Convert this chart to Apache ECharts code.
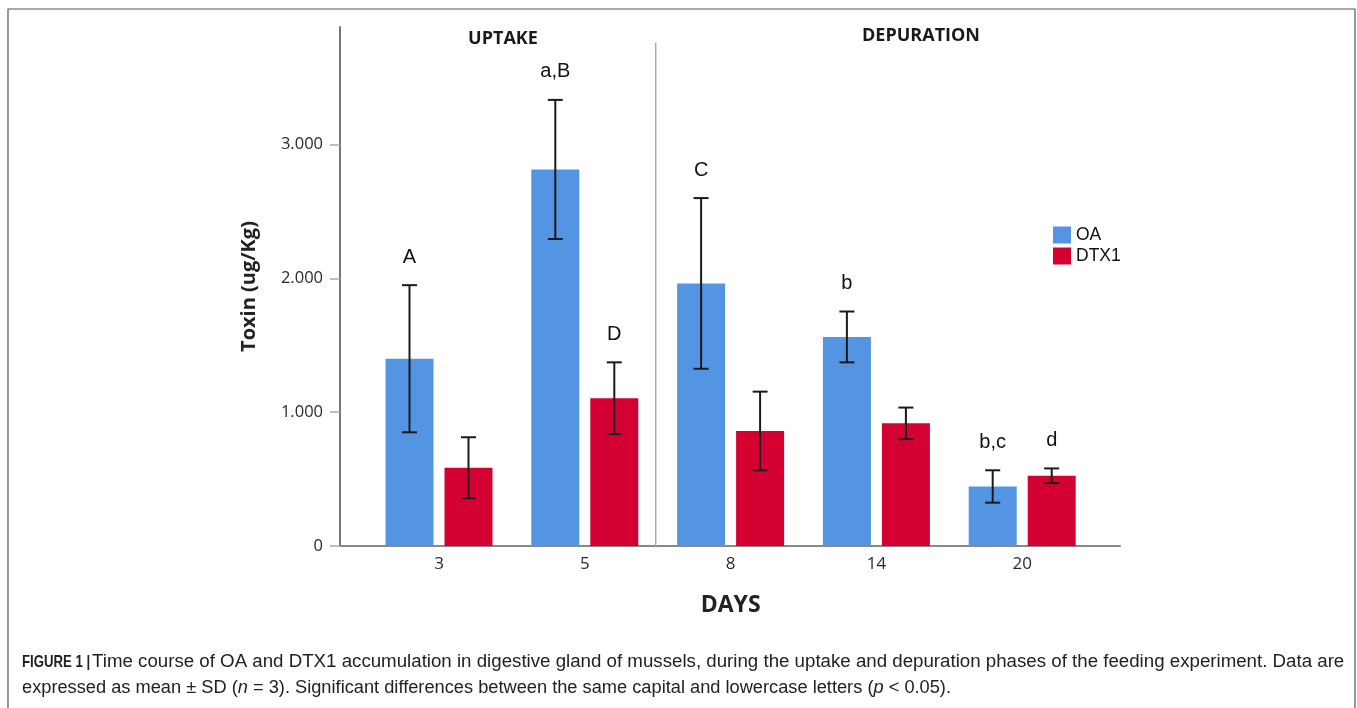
<!DOCTYPE html>
<html>
<head>
<meta charset="utf-8">
<script src="https://cdn.jsdelivr.net/npm/echarts@6/dist/echarts.min.js"></script>
<style>
  html, body { margin: 0; padding: 0; background: #fff; }
  #chart { width: 1357px; height: 708px; }
</style>
</head>
<body>
<div id="chart"></div>
<script>
// ---- data ----
const days = ['3', '5', '8', '14', '20'];
const oaMean  = [1400, 2815, 1963, 1563, 445];
const oaSD    = [550, 520, 638, 190, 121];
const dtxMean = [585, 1105, 860, 917, 525];
const dtxSD   = [228, 268, 294, 118, 55];
const oaLetters  = ['A', 'a,B', 'C', 'b', 'b,c'];
const dtxLetters = ['', 'D', '', '', 'd'];
const yTicks = [0, 1000, 2000, 3000];
const phases = ['UPTAKE', 'DEPURATION'];
const phaseBoundary = [1, 2]; // between day 5 and day 8

// ---- style ----
const BAR_W = 48, BAR_GAP = 11;
const BLUE = '#5495e3', RED = '#d50032';
const AXIS_FONT = '"Open Sans", sans-serif';
const YMAX = 3880;
const CAP_FONT = '17.5px "Liberation Sans", Arial, sans-serif';

function fmtThousands(v) {
  return String(v).replace(/\B(?=(\d{3})+(?!\d))/g, '.');
}

function errSeries(name, means, sds, letters, sign) {
  return {
    name: name + ' SD', type: 'custom', xAxisIndex: 1, yAxisIndex: 1, z: 5, silent: true,
    data: means.map((m, i) => [i, m, sds[i]]),
    renderItem: function (params, api) {
      const i = api.value(0), m = api.value(1), s = api.value(2);
      const off = sign * (BAR_W + BAR_GAP) / 2;
      const top = api.coord([i, m + s]);
      const bot = api.coord([i, m - s]);
      const x = top[0] + off;
      const ls = { stroke: '#1a1a1a', lineWidth: 2 };
      const children = [
        { type: 'line', shape: { x1: x, y1: top[1], x2: x, y2: bot[1] }, style: ls },
        { type: 'line', shape: { x1: x - 7.5, y1: top[1], x2: x + 7.5, y2: top[1] }, style: ls },
        { type: 'line', shape: { x1: x - 7.5, y1: bot[1], x2: x + 7.5, y2: bot[1] }, style: ls }
      ];
      const lab = letters[params.dataIndex];
      if (lab) {
        children.push({
          type: 'text', x: x, y: top[1] - 28,
          style: { text: lab, fill: '#111', font: '20px "Liberation Sans", Arial, sans-serif',
                   align: 'center', verticalAlign: 'middle' }
        });
      }
      return { type: 'group', children: children };
    }
  };
}

const chart = echarts.init(document.getElementById('chart'), null, { renderer: 'canvas' });

const option = {
  backgroundColor: '#fff',
  animation: false,
  grid: [
    { left: 340, top: 27, width: 780, height: 519 },
    { left: 366.1, top: 27, width: 729, height: 519 }
  ],
  legend: {
    data: ['OA', 'DTX1'],
    orient: 'vertical', left: 1053, top: 226, padding: 0,
    icon: 'rect', itemWidth: 18, itemHeight: 17, itemGap: 3,
    textStyle: { fontFamily: '"Liberation Sans", Arial, sans-serif', fontSize: 17.5, color: '#111', lineHeight: 17 },
    selectedMode: false
  },
  xAxis: [
    { gridIndex: 0, type: 'value', min: 0, max: 1,
      axisLine: { show: true, lineStyle: { color: '#888', width: 2 } },
      axisTick: { show: false }, axisLabel: { show: false }, splitLine: { show: false } },
    { gridIndex: 1, type: 'category', data: days, boundaryGap: true,
      axisLine: { show: false }, axisTick: { show: false }, splitLine: { show: false },
      axisLabel: { fontFamily: AXIS_FONT, fontSize: 17, color: '#2a2a2a', margin: 10 },
      name: 'DAYS', nameLocation: 'middle', nameGap: 48,
      nameTextStyle: { fontFamily: AXIS_FONT, fontSize: 23, fontWeight: 'bold', color: '#222' } }
  ],
  yAxis: [
    { gridIndex: 0, type: 'value', min: 0, max: YMAX, interval: 1000,
      axisLine: { show: true, lineStyle: { color: '#777', width: 2 } },
      axisTick: { show: true, length: 10, lineStyle: { color: '#aaa', width: 1.5 }, customValues: yTicks },
      axisLabel: { fontFamily: AXIS_FONT, fontSize: 16.5, color: '#2a2a2a', margin: 17,
                   customValues: yTicks, formatter: fmtThousands },
      splitLine: { show: false },
      name: 'Toxin (ug/Kg)', nameLocation: 'middle', nameGap: 81, nameRotate: 90,
      nameTextStyle: { fontFamily: AXIS_FONT, fontSize: 20, fontWeight: 'bold', color: '#222' } },
    { gridIndex: 1, type: 'value', min: 0, max: YMAX, interval: 1000, show: false }
  ],
  series: [
    { name: 'OA', type: 'bar', xAxisIndex: 1, yAxisIndex: 1, data: oaMean,
      barWidth: BAR_W, barGap: (BAR_GAP / BAR_W * 100) + '%', itemStyle: { color: BLUE } },
    { name: 'DTX1', type: 'bar', xAxisIndex: 1, yAxisIndex: 1, data: dtxMean,
      barWidth: BAR_W, itemStyle: { color: RED } },
    errSeries('OA', oaMean, oaSD, oaLetters, -1),
    errSeries('DTX1', dtxMean, dtxSD, dtxLetters, 1),
    { name: 'phase divider', type: 'custom', xAxisIndex: 1, yAxisIndex: 1, silent: true, z: 1,
      data: [phaseBoundary],
      renderItem: function (params, api) {
        const a = api.coord([api.value(0), 0]);
        const b = api.coord([api.value(1), 3765]);
        const x = (a[0] + b[0]) / 2 - 2;
        return { type: 'line', shape: { x1: x, y1: b[1], x2: x, y2: a[1] },
                 style: { stroke: '#aaa', lineWidth: 1.5 } };
      } }
  ],
  graphic: [
    { type: 'rect', shape: { x: 8, y: 9, width: 1347, height: 720 },
      style: { fill: 'none', stroke: '#555', lineWidth: 1.2 }, silent: true },
    { type: 'text', x: 503, y: 39, style: { text: phases[0], font: 'bold 18px "Open Sans", sans-serif', fill: '#1a1a1a', align: 'center', verticalAlign: 'middle' } },
    { type: 'text', x: 921, y: 36, style: { text: phases[1], font: 'bold 18px "Open Sans", sans-serif', fill: '#1a1a1a', align: 'center', verticalAlign: 'middle' } },
    { type: 'text', x: 22, y: 662, scaleX: 0.8,
      style: { text: 'FIGURE 1 |', font: 'bold 16.5px "Liberation Sans", Arial, sans-serif', fill: '#222', verticalAlign: 'middle' } },
    { type: 'text', x: 92, y: 662, scaleX: 1.068,
      style: { text: 'Time course of OA and DTX1 accumulation in digestive gland of mussels, during the uptake and depuration phases of the feeding experiment. Data are',
               font: CAP_FONT, fill: '#222', verticalAlign: 'middle' } },
    { type: 'text', x: 22, y: 688, scaleX: 1.042,
      style: {
        text: 'expressed as mean \u00b1 SD ({i|n} = 3). Significant differences between the same capital and lowercase letters ({i|p} < 0.05).',
        font: CAP_FONT, fill: '#222', verticalAlign: 'middle',
        rich: { i: { font: 'italic ' + CAP_FONT, fill: '#222' } }
      } }
  ]
};
chart.setOption(option);
</script>
</body>
</html>
